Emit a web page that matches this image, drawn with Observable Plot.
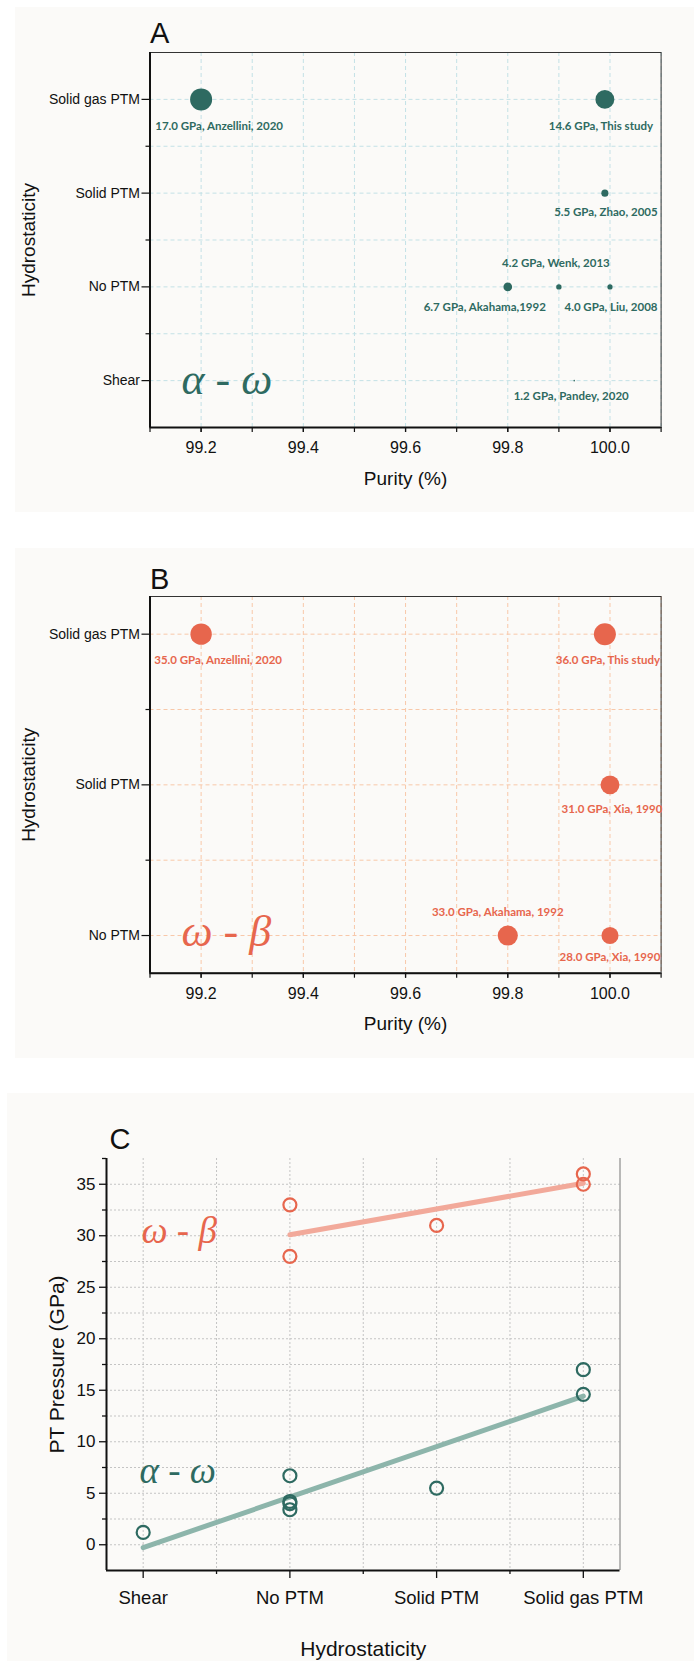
<!DOCTYPE html>
<html><head><meta charset="utf-8">
<script src="https://cdn.jsdelivr.net/npm/d3@7"></script>
<script src="https://cdn.jsdelivr.net/npm/@observablehq/plot@0.6"></script>
<style>
body{margin:0;background:#fff;}
#root{position:relative;width:694px;height:1661px;overflow:hidden;font-family:"Liberation Sans",Arial,sans-serif;}
.bg{position:absolute;background:#fbfaf8;}
.panel{position:absolute;left:0;}
.panel svg{background:transparent !important;}
</style></head><body>
<div id="root">
 <div class="bg" style="left:15px;top:7px;width:679px;height:505px"></div>
 <div class="bg" style="left:15px;top:548px;width:679px;height:510px"></div>
 <div class="bg" style="left:7px;top:1093px;width:687px;height:568px"></div>
 <div class="panel" id="pa" style="top:0"></div>
 <div class="panel" id="pb" style="top:540px"></div>
 <div class="panel" id="pc" style="top:1093px"></div>
</div>
<script>
// ---------- data ----------
const hydroCategories = ["Shear", "No PTM", "Solid PTM", "Solid gas PTM"];
const hydroCategoriesB = ["No PTM", "Solid PTM", "Solid gas PTM"];

// Panel A : alpha - omega
const purityA   = [99.2, 99.99, 99.99, 99.9, 99.8, 100.0, 99.93];
const hydroA    = ["Solid gas PTM", "Solid gas PTM", "Solid PTM", "No PTM", "No PTM", "No PTM", "Shear"];
const pressureA = [17.0, 14.6, 5.5, 4.2, 6.7, 4.0, 1.2];
const refsA     = ["Anzellini, 2020", "This study", "Zhao, 2005", "Wenk, 2013", "Akahama,1992", "Liu, 2008", "Pandey, 2020"];

// Panel B : omega - beta
const purityB   = [99.2, 99.99, 100.0, 99.8, 100.0];
const hydroB    = ["Solid gas PTM", "Solid gas PTM", "Solid PTM", "No PTM", "No PTM"];
const pressureB = [35.0, 36.0, 31.0, 33.0, 28.0];
const refsB     = ["Anzellini, 2020", "This study", "Xia, 1990", "Akahama, 1992", "Xia, 1990"];

// Panel C
const hydroCaw    = ["Shear", "No PTM", "No PTM", "No PTM", "No PTM", "Solid PTM", "Solid gas PTM", "Solid gas PTM"];
const pressureCaw = [1.2, 6.7, 4.2, 4.0, 3.4, 5.5, 17.0, 14.6];
const hydroCwb    = ["No PTM", "No PTM", "Solid PTM", "Solid gas PTM", "Solid gas PTM"];
const pressureCwb = [33.0, 28.0, 31.0, 36.0, 35.0];

// ticks
const purityTicks = [99.2, 99.4, 99.6, 99.8, 100.0];
const purityStepTicks = [99.1, 99.2, 99.3, 99.4, 99.5, 99.6, 99.7, 99.8, 99.9, 100.0, 100.1];
const pressureTicks = [0, 5, 10, 15, 20, 25, 30, 35];
const pressureMinorTicks = [2.5, 7.5, 12.5, 17.5, 22.5, 27.5, 32.5, 37.5];
const pressureGridTicks = [0, 2.5, 5, 7.5, 10, 12.5, 15, 17.5, 20, 22.5, 25, 27.5, 30, 32.5, 35];
const hydroHalfTicks = [0.5, 1.5, 2.5];
const hydroGridTicks = [0, 0.5, 1, 1.5, 2, 2.5, 3];

// ---------- styles ----------
const teal = "#2e6a61", orange = "#e7664d";
const labelFont = "Lato, 'Open Sans', sans-serif";
const greekFont = "'Liberation Serif', 'DejaVu Serif', serif";

function bubblePanel(cfg) {
  const {purity, hydro, pressure, refs, cats, yDomain, yGrid, yMinor, color, grid,
         nudges, height, marginTop, marginBottom, letter, letterDy, greek, greekDy, xTitleDy} = cfg;
  const idx = purity.map((_, i) => i);
  const yOf = i => cats.indexOf(hydro[i]);
  const labelMarks = idx.map(i => Plot.text([i], {
    x: j => purity[j], y: yOf,
    text: j => `${pressure[j].toFixed(1)} GPa, ${refs[j]}`,
    dx: nudges[i][0], dy: nudges[i][1],
    fill: color, fontSize: 11.5, fontWeight: "bold", fontFamily: labelFont
  }));
  return Plot.plot({
    width: 694, height, marginTop, marginBottom, marginLeft: 149.5, marginRight: 33.4,
    style: {fontFamily: "'Liberation Sans', Arial, sans-serif", background: "transparent", color: "#111"},
    x: {domain: [99.1, 100.1], axis: null},
    y: {domain: yDomain, axis: null},
    r: {type: "linear", domain: [0, d3.max(pressure)], range: [0, 11]},
    marks: [
      Plot.gridX(purityStepTicks, {stroke: grid, strokeOpacity: 1, strokeDasharray: "4,3"}),
      Plot.gridY(yGrid, {stroke: grid, strokeOpacity: 1, strokeDasharray: "4,3"}),
      Plot.frame({stroke: "#333", strokeWidth: 1}),
      Plot.ruleX([99.1], {stroke: "#111", strokeWidth: 2}),
      Plot.ruleY([yDomain[0]], {stroke: "#111", strokeWidth: 2}),
      Plot.axisX(purityTicks, {tickSize: 5, tickPadding: 9.5, fontSize: 16, strokeWidth: 1.2, tickFormat: d => d.toFixed(1)}),
      Plot.axisX(purityStepTicks, {tickSize: 5, strokeWidth: 1.2, tickFormat: () => ""}),
      Plot.axisY(cats.map((_, i) => i), {tickSize: 8, tickPadding: 2, fontSize: 14, strokeWidth: 1.2, tickFormat: i => cats[i]}),
      Plot.axisY(yMinor, {tickSize: 4, strokeWidth: 1.2, tickFormat: () => ""}),
      Plot.dot(idx, {x: i => purity[i], y: yOf, r: i => pressure[i], fill: color}),
      ...labelMarks,
      Plot.text(["Purity (%)"], {frameAnchor: "bottom", lineAnchor: "middle", dy: xTitleDy, fontSize: 19, fill: "#111"}),
      Plot.text(["Hydrostaticity"], {frameAnchor: "left", rotate: -90, textAnchor: "middle", lineAnchor: "middle", dx: -121.5, fontSize: 19, fill: "#111"}),
      Plot.text([letter], {frameAnchor: "top-left", textAnchor: "start", lineAnchor: "top", dy: letterDy, fontSize: 29, fill: "#111"}),
      Plot.text([greek], {frameAnchor: "bottom-left", textAnchor: "start", lineAnchor: "middle", dx: 31.5, dy: greekDy,
        fontSize: 44, fontStyle: "italic", fontFamily: greekFont, fill: color})
    ]
  });
}

document.getElementById("pa").append(bubblePanel({
  purity: purityA, hydro: hydroA, pressure: pressureA, refs: refsA, cats: hydroCategories,
  yDomain: [-0.5, 3.5], yGrid: [0, 0.5, 1, 1.5, 2, 2.5, 3], yMinor: [0.5, 1.5, 2.5],
  color: teal, grid: "#c3e1e6",
  nudges: [[18, 27], [-4, 27], [1, 19], [-3, -24], [-23, 20], [1, 20], [-3, 16]],
  height: 512, marginTop: 52, marginBottom: 85, letter: "A", letterDy: -30,
  greek: "α - ω", greekDy: -48, xTitleDy: 51
}));

document.getElementById("pb").append(bubblePanel({
  purity: purityB, hydro: hydroB, pressure: pressureB, refs: refsB, cats: hydroCategoriesB,
  yDomain: [-0.25, 2.25], yGrid: [0, 0.5, 1, 1.5, 2], yMinor: [0.5, 1.5],
  color: orange, grid: "#f8c8a9",
  nudges: [[17, 26], [3, 26], [2, 24], [-10, -23], [0, 22]],
  height: 520, marginTop: 56, marginBottom: 87.3, letter: "B", letterDy: -28,
  greek: "ω - β", greekDy: -41, xTitleDy: 50.3
}));

// Panel C
const catIndex = h => hydroCategories.indexOf(h);
const iaw = pressureCaw.map((_, i) => i);
const iwb = pressureCwb.map((_, i) => i);
const gridC = {stroke: "#c4c4c4", strokeOpacity: 1, strokeDasharray: "2,2"};
document.getElementById("pc").append(Plot.plot({
  width: 694, height: 568, marginTop: 65, marginBottom: 91, marginLeft: 106, marginRight: 74.5,
  style: {fontFamily: "'Liberation Sans', Arial, sans-serif", background: "transparent", color: "#111"},
  x: {domain: [-0.25, 3.25], axis: null},
  y: {domain: [-2.5, 37.5], axis: null},
  marks: [
    Plot.gridX(hydroGridTicks, gridC),
    Plot.gridY(pressureGridTicks, gridC),
    Plot.ruleX([3.25], {stroke: "#777", strokeWidth: 1}),
    Plot.ruleX([-0.25], {stroke: "#111", strokeWidth: 2}),
    Plot.ruleY([-2.5], {stroke: "#111", strokeWidth: 2}),
    Plot.axisX([0, 1, 2, 3], {tickSize: 8, tickPadding: 12, fontSize: 18.5, strokeWidth: 1.3, tickFormat: i => hydroCategories[i]}),
    Plot.axisX(hydroHalfTicks, {tickSize: 4, strokeWidth: 1.3, tickFormat: () => ""}),
    Plot.axisY(pressureTicks, {tickSize: 7, tickPadding: 4, fontSize: 17, strokeWidth: 1.3}),
    Plot.axisY(pressureMinorTicks, {tickSize: 4, strokeWidth: 1.3, tickFormat: () => ""}),
    Plot.linearRegressionY(iaw, {x: i => catIndex(hydroCaw[i]), y: i => pressureCaw[i], stroke: "#8db5ab", strokeWidth: 5, ci: 0}),
    Plot.linearRegressionY(iwb, {x: i => catIndex(hydroCwb[i]), y: i => pressureCwb[i], stroke: "#f2a99a", strokeWidth: 5, ci: 0}),
    Plot.dot(iaw, {x: i => catIndex(hydroCaw[i]), y: i => pressureCaw[i], r: 6.5, stroke: teal, strokeWidth: 2.2, fill: "none"}),
    Plot.dot(iwb, {x: i => catIndex(hydroCwb[i]), y: i => pressureCwb[i], r: 6.5, stroke: orange, strokeWidth: 2.2, fill: "none"}),
    Plot.text(["PT Pressure (GPa)"], {frameAnchor: "left", rotate: -90, textAnchor: "middle", lineAnchor: "middle", dx: -49, fontSize: 21, fill: "#111"}),
    Plot.text(["Hydrostaticity"], {frameAnchor: "bottom", lineAnchor: "middle", dy: 78.5, fontSize: 21, fill: "#111"}),
    Plot.text(["C"], {frameAnchor: "top-left", textAnchor: "start", lineAnchor: "top", dx: 3, dy: -30, fontSize: 29, fill: "#111"}),
    Plot.text(["ω - β"], {frameAnchor: "top-left", textAnchor: "start", lineAnchor: "middle", dx: 35, dy: 73, fontSize: 37, fontStyle: "italic", fontFamily: greekFont, fill: orange}),
    Plot.text(["α - ω"], {frameAnchor: "top-left", textAnchor: "start", lineAnchor: "middle", dx: 33, dy: 313, fontSize: 37, fontStyle: "italic", fontFamily: greekFont, fill: teal})
  ]
}));
</script>
</body></html>
